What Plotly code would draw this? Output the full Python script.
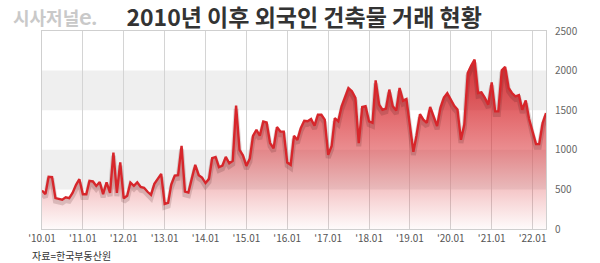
import pandas as pd
import plotly.graph_objects as go

# Monthly foreign building transactions (2010.01 - 2022.05)
y2010 = [485, 440, 660, 655, 390, 380, 370, 400, 390, 455, 557, 629]
y2011 = [439, 439, 607, 600, 544, 594, 440, 590, 455, 966, 455, 840]
y2012 = [388, 420, 586, 545, 590, 530, 520, 470, 430, 570, 630, 696]
y2013 = [316, 330, 560, 675, 680, 1050, 472, 460, 640, 810, 680, 650]
y2014 = [580, 633, 894, 910, 780, 800, 910, 830, 860, 1557, 1000, 930]
y2015 = [797, 890, 1177, 1253, 1177, 1358, 1345, 1085, 1020, 1287, 1230, 1230]
y2016 = [840, 810, 1177, 1125, 1274, 1367, 1360, 1388, 1304, 1443, 1443, 1380]
y2017 = [937, 1050, 1400, 1360, 1550, 1660, 1780, 1740, 1655, 1085, 1540, 1550]
y2018 = [1358, 1340, 1877, 1570, 1506, 1520, 1760, 1550, 1495, 1780, 1620, 1640]
y2019 = [1300, 975, 1180, 1450, 1380, 1340, 1540, 1420, 1300, 1530, 1660, 1715]
y2020 = [1630, 1555, 1510, 1127, 1320, 1970, 2060, 2140, 1717, 1725, 1655, 1570]
y2021 = [1852, 1485, 1485, 2004, 2047, 1780, 1717, 1675, 1690, 1506, 1624, 1388]
y2022 = [1230, 1072, 1072, 1338, 1464]

values = (y2010 + y2011 + y2012 + y2013 + y2014 + y2015 + y2016 + y2017
          + y2018 + y2019 + y2020 + y2021 + y2022)
months = pd.date_range("2010-01-01", periods=len(values), freq="MS")

tick_dates = [f"{y}-01-01" for y in range(2010, 2023)]
tick_labels = ["'10.01", "'11.01", "'12.01", "'13.01", "'14.01", "'15.01", "'16.01",
               "'17.01", "'18.01", "'19.01", "'20.01", "'21.01", "'22.01"]
y_ticks = [0, 500, 1000, 1500, 2000, 2500]
bands = [(500, 1000), (1500, 2000)]

FONT = "Noto Sans CJK KR"
RED = "#d7262b"

fig = go.Figure()

# gradient area
fig.add_trace(go.Scatter(
    x=months, y=values, mode="lines", line=dict(width=0, color=RED),
    fill="tozeroy",
    fillgradient=dict(
        type="vertical", start=0, stop=2150,
        colorscale=[[0, "rgba(215,35,40,0.02)"], [0.15, "rgba(215,35,40,0.17)"],
                    [0.47, "rgba(215,35,40,0.52)"], [0.86, "rgba(212,35,40,0.83)"],
                    [1, "rgba(205,30,35,0.9)"]]),
    hoverinfo="skip", showlegend=False))

# soft shadow under the line (drawn on an axis shifted a few pixels down)
fig.add_trace(go.Scatter(
    x=months, y=values, mode="lines", yaxis="y2",
    line=dict(width=5, color="rgba(60,20,20,0.16)"),
    hoverinfo="skip", showlegend=False))

# main line
fig.add_trace(go.Scatter(
    x=months, y=values, mode="lines", yaxis="y3",
    line=dict(width=2.4, color=RED),
    showlegend=False))

for lo, hi in bands:
    fig.add_shape(type="rect", xref="paper", yref="y", x0=0, x1=1, y0=lo, y1=hi,
                  fillcolor="#efefef", line_width=0, layer="below")

fig.update_layout(
    width=600, height=263,
    margin=dict(l=42, r=54, t=31, b=34),
    paper_bgcolor="white", plot_bgcolor="white",
    font=dict(family=FONT, color="#555"),
    title=dict(text="<b>2010년 이후 외국인 건축물 거래 현황</b>",
               x=0.507, xanchor="center", y=1 - 18 / 263, yanchor="middle",
               xref="container", yref="container",
               font=dict(family=FONT, size=23, color="#333")),
    xaxis=dict(
        range=[months[0], months[-1]],
        tickvals=tick_dates, ticktext=tick_labels,
        showgrid=True, gridcolor="#d4d4d4", gridwidth=1,
        showline=True, linecolor="#cfcfcf", linewidth=1, mirror=True,
        ticks="", tickfont=dict(size=10, color="#555", family=FONT),
        zeroline=False, fixedrange=True),
    yaxis=dict(
        range=[0, 2500], side="right", tickvals=y_ticks,
        showgrid=False, zeroline=False,
        showline=True, linecolor="#cfcfcf", linewidth=1, mirror=True,
        ticks="", ticklabelstandoff=6,
        tickfont=dict(size=10, color="#666", family=FONT)),
    yaxis2=dict(range=[40, 2540], overlaying="y", visible=False),
    yaxis3=dict(range=[0, 2500], overlaying="y", visible=False),
)

fig.add_annotation(
    text="<b>시사저널</b><b><span style='font-family:Lato;font-size:23px'>e.</span></b>",
    xref="paper", yref="paper",
    x=(11 - 42) / 504, y=1 + (31 - 16) / 198, xanchor="left", yanchor="middle",
    showarrow=False, font=dict(family=FONT, size=18, color="#c9c9c9"))
fig.add_annotation(text="자료=한국부동산원", xref="paper", yref="paper",
                   x=(30 - 42) / 504, y=-(256 - 229) / 198, xanchor="left", yanchor="middle",
                   showarrow=False, font=dict(family=FONT, size=10, color="#333"))

fig.write_html("out.html")
